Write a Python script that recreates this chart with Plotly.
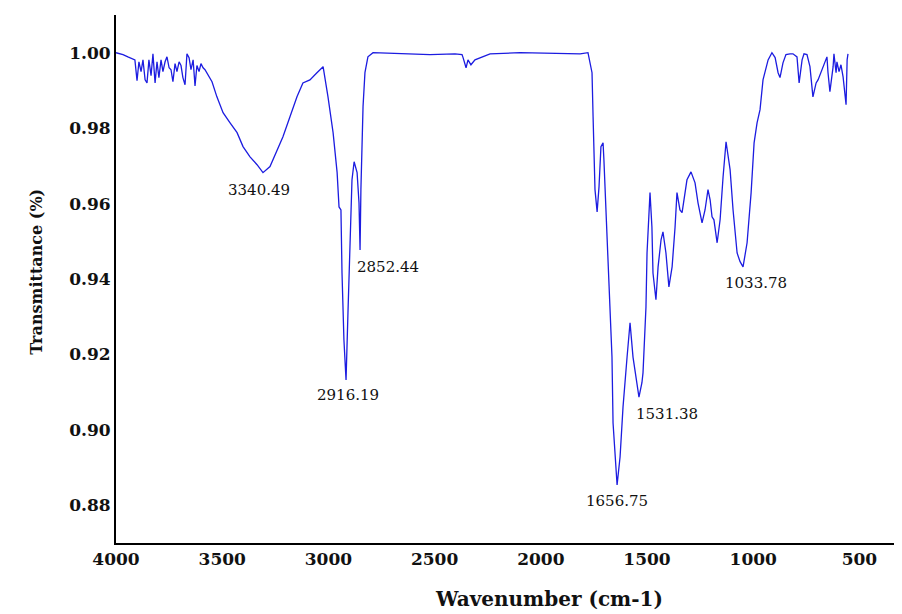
import plotly.graph_objects as go

wavenumber = [4000, 3967, 3944, 3911, 3901, 3892, 3882, 3873, 3863, 3854, 3845, 3835, 3826, 3816,
              3807, 3798, 3788, 3779, 3769, 3760, 3750, 3741, 3732, 3722, 3713, 3703, 3694, 3685,
              3675, 3666, 3656, 3647, 3637, 3628, 3619, 3609, 3600, 3590, 3581, 3572,
              3548, 3525, 3496, 3463, 3430, 3402, 3369, 3336, 3308, 3275, 3242, 3214, 3181, 3148,
              3120, 3087, 3054, 3025, 3002, 2978, 2959, 2950, 2941, 2936, 2927, 2917, 2908, 2898,
              2889, 2879, 2865, 2856, 2851, 2847, 2837, 2828, 2814, 2790, 2663, 2522, 2404,
              2371, 2366, 2352, 2343, 2329, 2310, 2272, 2239, 2098, 1910, 1815, 1778,
              1759, 1754, 1745, 1735, 1726, 1717, 1707, 1703, 1688, 1679, 1665, 1660, 1646, 1641,
              1627, 1613, 1594, 1580, 1566, 1547, 1538, 1524, 1519, 1505, 1500, 1486, 1477, 1472,
              1458, 1448, 1434, 1425, 1411, 1397, 1382, 1368, 1359, 1345, 1335, 1312, 1293, 1274,
              1260, 1241, 1227, 1213, 1203, 1194, 1185, 1170, 1156, 1142, 1128, 1109, 1095, 1076,
              1062, 1048, 1029, 1010, 996, 982, 968, 954, 930, 912, 897, 883, 874, 860, 846, 827,
              813, 794, 784, 770, 761, 747, 733, 719, 704, 695, 676, 662, 653, 648, 639, 624, 620,
              610, 606, 596, 587, 577, 568, 563, 558, 554]

transmittance = [1.0000, 0.9995, 0.9989, 0.9981, 0.9926, 0.9976, 0.9950, 0.9981, 0.9928, 0.9920,
                 0.9981, 0.9939, 0.9997, 0.9920, 0.9976, 0.9934, 0.9981, 0.9950, 0.9976, 0.9989,
                 0.9960, 0.9955, 0.9923, 0.9971, 0.9950, 0.9976, 0.9966, 0.9934, 0.9915, 0.9997,
                 0.9987, 0.9955, 0.9981, 0.9912, 0.9966, 0.9950, 0.9971, 0.9960, 0.9955, 0.9947,
                 0.9923, 0.9883, 0.9841, 0.9814, 0.9788, 0.9751, 0.9724, 0.9703, 0.9682, 0.9698,
                 0.9743, 0.9777, 0.9830, 0.9883, 0.9920, 0.9928, 0.9947, 0.9963, 0.9883, 0.9788,
                 0.9682, 0.9591, 0.9583, 0.9416, 0.9239, 0.9132, 0.9310, 0.9504, 0.9663, 0.9711,
                 0.9682, 0.9602, 0.9477, 0.9637, 0.9857, 0.9947, 0.9989, 1.0000, 0.9997, 0.9995,
                 0.9997, 0.9995, 0.9987, 0.9960, 0.9981, 0.9968, 0.9981, 0.9989, 0.9997, 1.0000,
                 0.9997, 0.9997, 1.0000,
                 0.9947, 0.9830, 0.9637, 0.9578, 0.9645, 0.9751, 0.9761, 0.9716, 0.9504, 0.9371,
                 0.9193, 0.9018, 0.8886, 0.8854, 0.8928, 0.9061, 0.9193, 0.9284, 0.9193, 0.9125,
                 0.9087, 0.9125, 0.9151, 0.9326, 0.9469, 0.9629, 0.9538, 0.9416, 0.9345, 0.9432,
                 0.9504, 0.9525, 0.9469, 0.9379, 0.9432, 0.9538, 0.9629, 0.9583, 0.9576, 0.9663,
                 0.9684, 0.9655, 0.9602, 0.9549, 0.9583, 0.9637, 0.9610, 0.9565, 0.9557, 0.9496,
                 0.9557, 0.9671, 0.9764, 0.9690, 0.9583, 0.9469, 0.9446, 0.9432, 0.9496, 0.9629,
                 0.9761, 0.9814, 0.9849, 0.9928, 0.9981, 1.0000, 0.9987, 0.9947, 0.9934, 0.9973,
                 0.9995, 0.9997, 0.9997, 0.9989, 0.9920, 0.9981, 0.9997, 0.9995, 0.9963, 0.9883,
                 0.9920, 0.9928, 0.9955, 0.9976, 0.9989, 0.9947, 0.9897, 0.9963, 0.9997, 0.9947,
                 0.9976, 0.9950, 0.9968, 0.9936, 0.9894, 0.9862, 0.9981, 0.9997]

peak_labels = ["3340.49", "2852.44", "2916.19", "1656.75", "1531.38", "1033.78"]
peak_label_x = [3327, 2719, 2908, 1641, 1406, 987]
peak_label_y = [0.9637, 0.9432, 0.9093, 0.8811, 0.9042, 0.9390]

x_ticks = [4000, 3500, 3000, 2500, 2000, 1500, 1000, 500]
y_ticks = [0.88, 0.90, 0.92, 0.94, 0.96, 0.98, 1.00]

serif = "DejaVu Serif, serif"

fig = go.Figure()
fig.add_trace(go.Scatter(
    x=wavenumber, y=transmittance, mode="lines",
    line=dict(color="#1c1ce0", width=1.3), showlegend=False,
))

for txt, px, py in zip(peak_labels, peak_label_x, peak_label_y):
    fig.add_annotation(x=px, y=py, text=txt, showarrow=False,
                       font=dict(family=serif, size=15, color="#111111"))

fig.add_annotation(xref="paper", yref="paper", x=-0.1146, y=0.513, text="Transmittance (%)",
                   textangle=-90, showarrow=False,
                   font=dict(family=serif, size=16, color="#111111", weight="bold"))
fig.add_annotation(xref="paper", yref="paper", x=0.545, y=-0.133, text="Wavenumber (cm-1)",
                   showarrow=False,
                   font=dict(family=serif, size=20, color="#111111", weight="bold"))

fig.update_layout(
    width=902, height=614,
    margin=dict(l=108, r=0, t=7, b=79),
    paper_bgcolor="white", plot_bgcolor="white",
    xaxis=dict(range=[4000, 262], tickvals=x_ticks, showgrid=False, zeroline=False,
               showline=True, linecolor="black", linewidth=2, ticks="",
               tickfont=dict(family=serif, size=17, color="#111111", weight="bold")),
    yaxis=dict(range=[0.870, 1.010], tickvals=y_ticks, tickformat=".2f", showgrid=False,
               zeroline=False, showline=True, linecolor="black", linewidth=2, ticks="",
               ticklabelstandoff=0,
               tickfont=dict(family=serif, size=17, color="#111111", weight="bold")),
)

fig.write_html("out.html")
